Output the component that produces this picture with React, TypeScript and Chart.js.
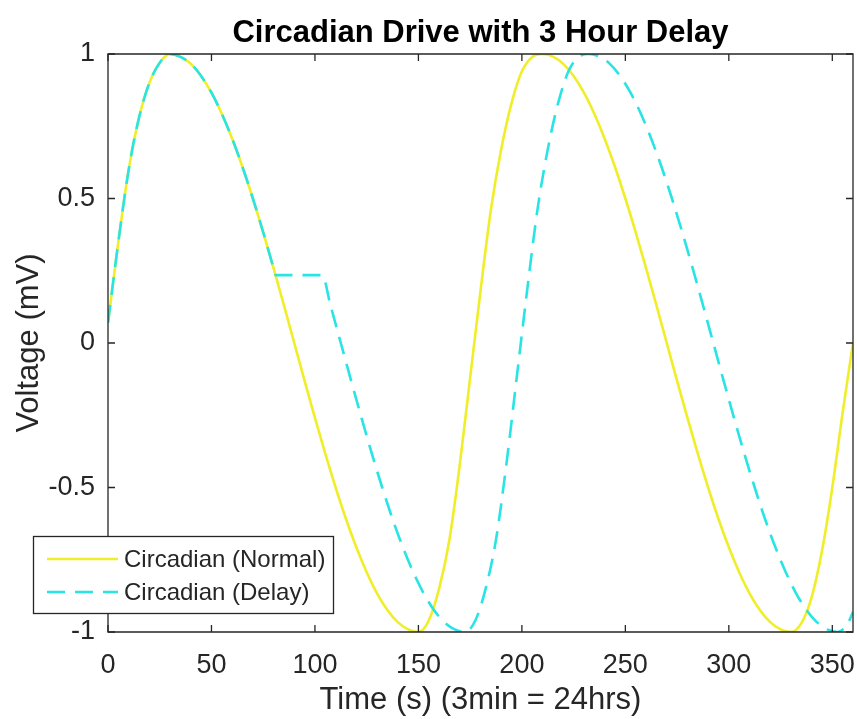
import React, { useEffect, useRef } from "react";
import { Chart, registerables } from "chart.js";

Chart.register(...registerables);

const TITLE = "Circadian Drive with 3 Hour Delay";
const X_LABEL = "Time (s) (3min = 24hrs)";
const Y_LABEL = "Voltage (mV)";
const SERIES_NAMES = ["Circadian (Normal)", "Circadian (Delay)"];
const X_TICKS = [0, 50, 100, 150, 200, 250, 300, 350];
const Y_TICKS = [-1, -0.5, 0, 0.5, 1];
const X_MIN = 0;
const X_MAX = 360;
const Y_MIN = -1;
const Y_MAX = 1;

const normalTime = [
  0, 5, 10, 15, 20, 25, 30, 35, 40, 45, 50, 55, 60, 65, 70, 75, 80, 85, 90, 95,
  100, 105, 110, 115, 120, 125, 130, 135, 140, 145, 150, 155, 160, 165, 170, 175,
  180, 185, 190, 195, 200, 205, 210, 215, 220, 225, 230, 235, 240, 245, 250, 255,
  260, 265, 270, 275, 280, 285, 290, 295, 300, 305, 310, 315, 320, 325, 330, 335,
  340, 345, 350, 355, 360,
];
const normalVoltage = [
  0.07, 0.35, 0.6, 0.78, 0.9, 0.97, 1.0, 0.99, 0.966, 0.924, 0.866, 0.793, 0.707,
  0.609, 0.5, 0.383, 0.259, 0.131, 0, -0.131, -0.259, -0.383, -0.5, -0.609, -0.707,
  -0.793, -0.866, -0.924, -0.966, -0.991, -1.0, -0.96, -0.85, -0.68, -0.42, -0.12,
  0.18, 0.46, 0.67, 0.83, 0.94, 0.99, 1.0, 0.991, 0.966, 0.924, 0.866, 0.793, 0.707,
  0.609, 0.5, 0.383, 0.259, 0.131, 0, -0.131, -0.259, -0.383, -0.5, -0.609, -0.707,
  -0.793, -0.866, -0.924, -0.966, -0.991, -1.0, -0.97, -0.88, -0.72, -0.5, -0.24, 0.0,
];

const delayTime = [
  0, 5, 10, 15, 20, 25, 30, 35, 40, 45, 50, 55, 60, 65, 70, 75, 80, 81, 103.5,
  107.5, 112.5, 117.5, 122.5, 127.5, 132.5, 137.5, 142.5, 147.5, 152.5, 157.5,
  162.5, 167.5, 172.5, 177.5, 182.5, 187.5, 192.5, 197.5, 202.5, 207.5, 212.5,
  217.5, 222.5, 227.5, 232.5, 237.5, 242.5, 247.5, 252.5, 257.5, 262.5, 267.5,
  272.5, 277.5, 282.5, 287.5, 292.5, 297.5, 302.5, 307.5, 312.5, 317.5, 322.5,
  327.5, 332.5, 337.5, 342.5, 347.5, 352.5, 357.5, 360,
];
const delayVoltage = [
  0.07, 0.35, 0.6, 0.78, 0.9, 0.97, 1.0, 0.99, 0.966, 0.924, 0.866, 0.793, 0.707,
  0.609, 0.5, 0.383, 0.259, 0.235, 0.235,
  0.131, 0, -0.131, -0.259, -0.383, -0.5, -0.609, -0.707, -0.793, -0.866, -0.924,
  -0.966, -0.991, -1.0, -0.96, -0.85, -0.68, -0.42, -0.12, 0.18, 0.46, 0.67, 0.83,
  0.94, 0.99, 1.0, 0.991, 0.966, 0.924, 0.866, 0.793, 0.707, 0.609, 0.5, 0.383,
  0.259, 0.131, 0, -0.131, -0.259, -0.383, -0.5, -0.609, -0.707, -0.793, -0.866,
  -0.924, -0.966, -0.991, -1.0, -0.97, -0.93,
];

const FONT = "'Liberation Sans', Arial, Helvetica, sans-serif";
const AXIS_COLOR = "#262626";
const YELLOW = "rgb(240, 238, 40)";
const CYAN = "rgb(40, 228, 228)";

const zip = (xs: number[], ys: number[]) => xs.map((x, i) => ({ x, y: ys[i] }));

const boxPlugin = {
  id: "matlabBox",
  afterDatasetsDraw(chart: any) {
    const { ctx, chartArea } = chart;
    const { left, right, top, bottom } = chartArea;
    const xs = chart.scales.x;
    const ys = chart.scales.y;
    const tl = 7;
    ctx.save();
    ctx.strokeStyle = AXIS_COLOR;
    ctx.lineWidth = 1.3;
    ctx.beginPath();
    ctx.rect(left, top, right - left, bottom - top);
    ctx.stroke();
    ctx.beginPath();
    X_TICKS.forEach((v) => {
      const px = xs.getPixelForValue(v);
      ctx.moveTo(px, bottom);
      ctx.lineTo(px, bottom - tl);
      ctx.moveTo(px, top);
      ctx.lineTo(px, top + tl);
    });
    Y_TICKS.forEach((v) => {
      const py = ys.getPixelForValue(v);
      ctx.moveTo(left, py);
      ctx.lineTo(left + tl, py);
      ctx.moveTo(right, py);
      ctx.lineTo(right - tl, py);
    });
    ctx.stroke();
    ctx.restore();
  },
};

const titlePlugin = {
  id: "matlabTitle",
  afterDraw(chart: any) {
    const { ctx, chartArea } = chart;
    ctx.save();
    ctx.fillStyle = "#000";
    ctx.font = `bold 31px ${FONT}`;
    ctx.textAlign = "center";
    ctx.textBaseline = "alphabetic";
    ctx.fillText(TITLE, (chartArea.left + chartArea.right) / 2, 42);
    ctx.restore();
  },
};

const legendPlugin = {
  id: "matlabLegend",
  afterDraw(chart: any) {
    const ctx = chart.ctx;
    ctx.save();
    const bx = 33.5, by = 536.5, bw = 300, bh = 77;
    ctx.fillStyle = "#fff";
    ctx.fillRect(bx, by, bw, bh);
    ctx.strokeStyle = AXIS_COLOR;
    ctx.lineWidth = 1.3;
    ctx.strokeRect(bx, by, bw, bh);
    chart.data.datasets.forEach((ds: any, i: number) => {
      const y = 559 + i * 33;
      ctx.strokeStyle = ds.borderColor;
      ctx.lineWidth = ds.borderWidth;
      ctx.setLineDash(ds.borderDash || []);
      ctx.beginPath();
      ctx.moveTo(47, y);
      ctx.lineTo(118, y);
      ctx.stroke();
      ctx.setLineDash([]);
      ctx.fillStyle = AXIS_COLOR;
      ctx.font = `24px ${FONT}`;
      ctx.textBaseline = "middle";
      ctx.textAlign = "left";
      ctx.fillText(ds.label, 124, y + 1);
    });
    ctx.restore();
  },
};

export default function App() {
  const ref = useRef<HTMLCanvasElement | null>(null);

  useEffect(() => {
    if (!ref.current) return;
    const chart = new Chart(ref.current, {
      type: "line",
      data: {
        datasets: [
          {
            label: SERIES_NAMES[0],
            data: zip(normalTime, normalVoltage),
            borderColor: YELLOW,
            borderWidth: 2.6,
            pointRadius: 0,
            cubicInterpolationMode: "monotone",
            fill: false,
            order: 2,
          },
          {
            label: SERIES_NAMES[1],
            data: zip(delayTime, delayVoltage),
            borderColor: CYAN,
            borderWidth: 2.6,
            borderDash: [18, 10],
            pointRadius: 0,
            cubicInterpolationMode: "monotone",
            fill: false,
            order: 1,
          },
        ],
      },
      options: {
        responsive: false,
        animation: false,
        layout: { padding: { top: 54, right: 4, left: 0, bottom: 0 } },
        plugins: {
          legend: { display: false },
          title: { display: false },
          tooltip: { enabled: false },
        },
        scales: {
          x: {
            type: "linear",
            min: X_MIN,
            max: X_MAX,
            grid: { display: false, drawTicks: false },
            border: { display: false },
            afterBuildTicks: (scale: any) => {
              scale.ticks = X_TICKS.map((v) => ({ value: v }));
            },
            afterFit: (scale: any) => {
              scale.height = 87;
              scale.paddingLeft = 0;
              scale.paddingRight = 0;
            },
            ticks: {
              autoSkip: false,
              maxRotation: 0,
              padding: 17,
              color: AXIS_COLOR,
              font: { family: FONT, size: 27 },
              callback: (v: any) => String(v),
            },
            title: {
              display: true,
              text: X_LABEL,
              color: AXIS_COLOR,
              font: { family: FONT, size: 31 },
              padding: { top: 0, bottom: 0 },
            },
          },
          y: {
            type: "linear",
            min: Y_MIN,
            max: Y_MAX,
            grid: { display: false, drawTicks: false },
            border: { display: false },
            afterBuildTicks: (scale: any) => {
              scale.ticks = Y_TICKS.map((v) => ({ value: v }));
            },
            afterFit: (scale: any) => {
              scale.width = 108;
              scale.paddingTop = 0;
              scale.paddingBottom = 0;
            },
            ticks: {
              padding: 13,
              color: AXIS_COLOR,
              font: { family: FONT, size: 27 },
              callback: (v: any) => String(v),
            },
            title: {
              display: true,
              text: Y_LABEL,
              color: AXIS_COLOR,
              font: { family: FONT, size: 31 },
              padding: { top: 11, bottom: 0 },
            },
          },
        },
      },
      plugins: [boxPlugin, titlePlugin, legendPlugin],
    } as any);
    return () => chart.destroy();
  }, []);

  return (
    <div style={{ position: "fixed", left: 0, top: 0, width: 857, height: 719, background: "#fff" }}>
      <canvas ref={ref} width={857} height={719} style={{ display: "block" }} />
    </div>
  );
}
